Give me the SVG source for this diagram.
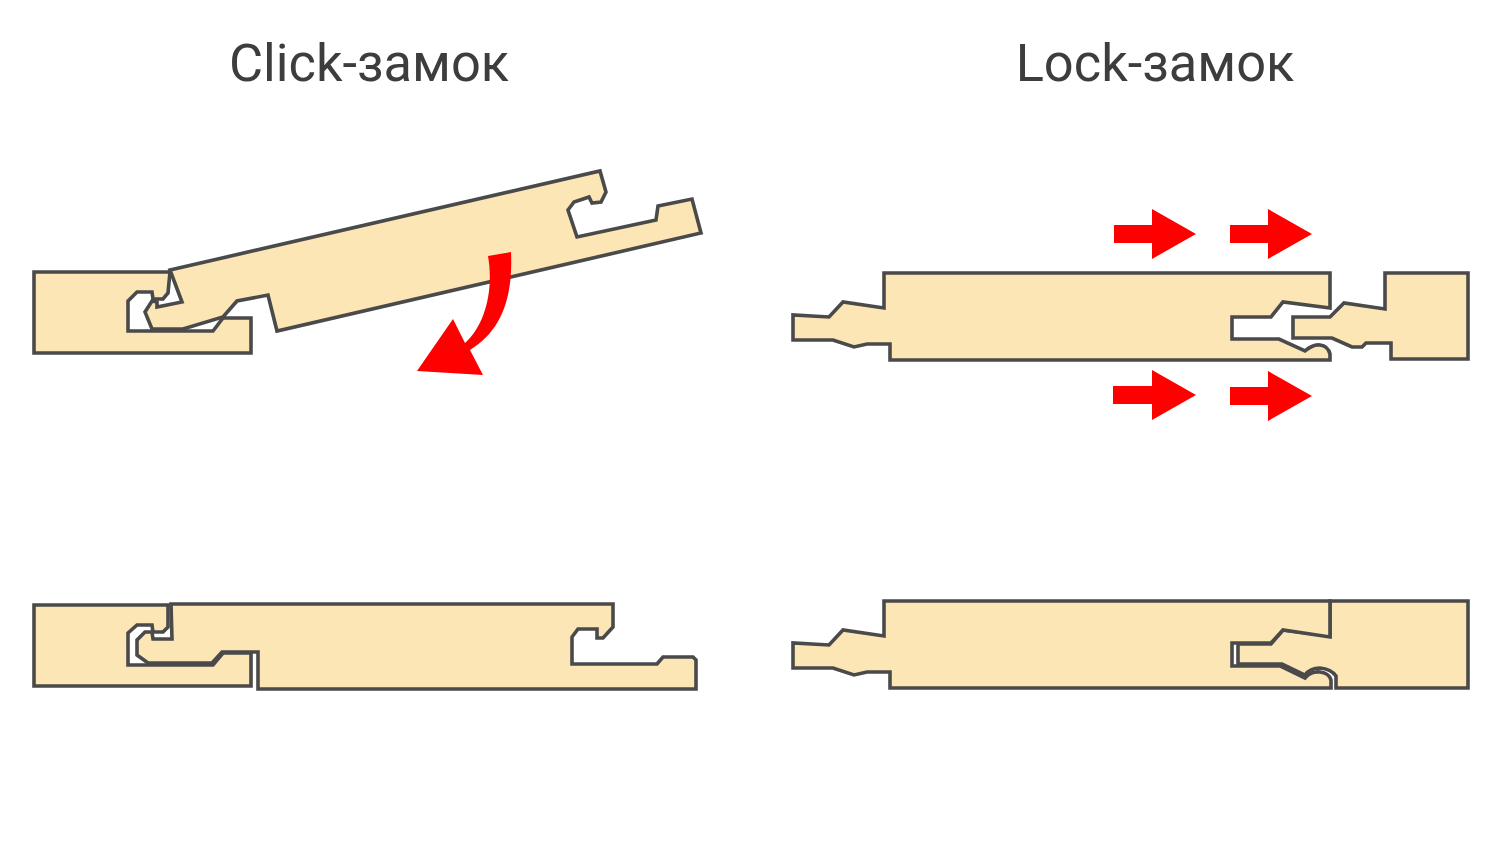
<svg xmlns="http://www.w3.org/2000/svg" width="1500" height="844" viewBox="0 0 1500 844">
<style>
.b{fill:#fde6b5;stroke:#4a4a4a;stroke-width:3.6;stroke-linejoin:miter}
.r{fill:#ff0000;stroke:none}
.t{font-family:Roboto,"Noto Sans",sans-serif;font-size:52.4px;fill:#3d3d3d;text-anchor:middle}
</style>
<rect width="1500" height="844" fill="#ffffff"/>
<text id="title-click" class="t" x="369" y="81">Click-замок</text>
<text id="title-lock" class="t" x="1155" y="81">Lock-замок</text>
<g id="click-open">
<g id="click-open-left"><path class="b" d="M34 272H170L168 293L163 299H153L152 292H137L128 301V331H213L223 318H251V353H34Z"/></g>
<g id="click-open-right"><path class="b" d="M170 270L600 171L606 192L601 202L592 203L589 197L574 202L568 210L577 237L656 220L658 206L692 199L701 233L277 331L268 295L237 301L223 317L183 329H152L145 312L152 301L157 302L157 307L182 302Z"/></g>
</g>
<g id="click-closed">
<g id="click-closed-left"><path class="b" d="M34 605H168V627L163 632H153L152 625H137L128 633V665H213L223 653H251V686H34Z"/></g>
<g id="click-closed-right"><path class="b" d="M171 604H613V627L603 638H597V629H578L572 637V664H657L663 657H693L696 660V689H258V652H222L212 663H148L137 655V640L145 632H152L153 639H172Z"/></g>
</g>
<g id="lock-open">
<g id="lock-open-left"><path class="b" d="M884 273H1330V308L1283 302L1271 317H1232V339H1279L1305 351Q1313 344 1320 345Q1328 346 1330 354V360H890V344H867L854 347L833 340H793V315L829 317L843 302L884 308Z"/></g>
<g id="lock-open-right"><path class="b" d="M1385 273H1468V359H1391V343H1366L1362 347H1352L1332 338H1293V317H1330L1344 303L1385 309Z"/></g>
</g>
<g id="lock-closed">
<g id="lock-closed-right"><path class="b" d="M1330 601H1468V688H1336V676Q1331 669 1320 668Q1310 668 1305 675L1282 664H1238V644H1271L1283 630L1330 636Z"/></g>
<g id="lock-closed-left"><path class="b" d="M884 601H1330V637L1283 630L1271 643H1232V666H1280L1305 678Q1311 671 1320 672Q1329 673 1331 680V688H890V672H867L854 675L833 668H793V643L829 645L843 630L884 636Z"/></g>
</g>
<g id="connectors">
<path id="arrow-down" class="r" d="M488 256L511 252C513 295 503 330 470 350L483 375L417 371L453 319L465 343C485 325 494 290 488 256Z"/>
<path id="arrow-1" class="r" d="M1114 225H1152V209L1196 234L1152 259V243H1114Z"/>
<path id="arrow-2" class="r" d="M1230 225H1268V209L1312 234L1268 259V243H1230Z"/>
<path id="arrow-3" class="r" d="M1113 386H1152V370L1196 395L1152 420V404H1113Z"/>
<path id="arrow-4" class="r" d="M1230 387H1268V371L1312 396L1268 421V405H1230Z"/>
</g>
</svg>
